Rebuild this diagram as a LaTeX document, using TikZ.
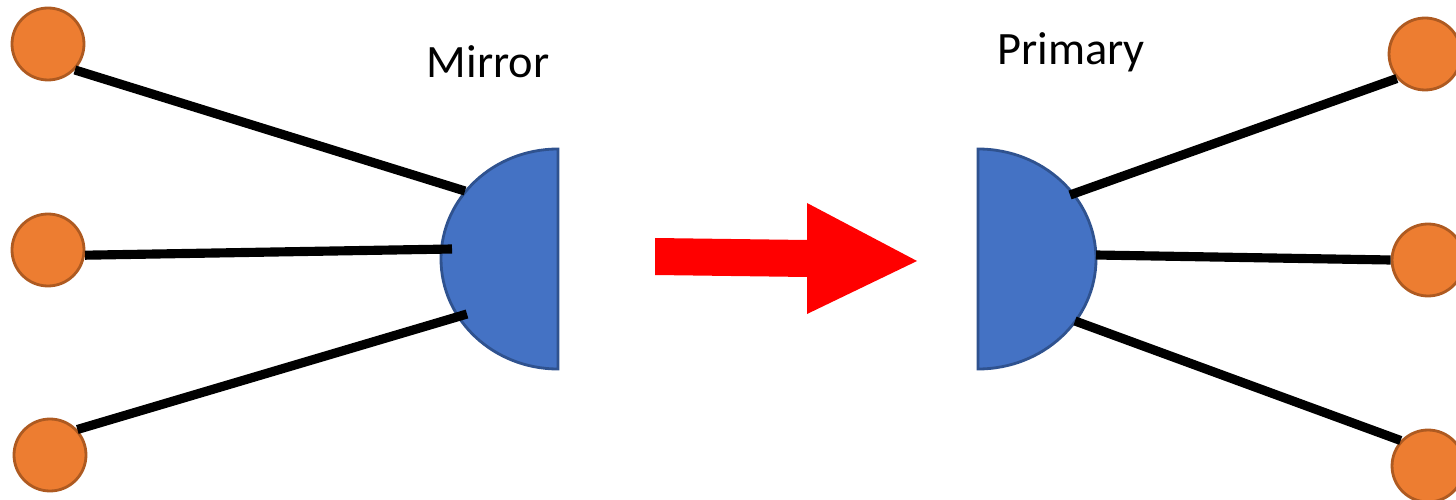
\documentclass[tikz,border=0pt]{standalone}
\usepackage{fontspec}
\setmainfont{Carlito}
\definecolor{dotfill}{HTML}{ED7D31}
\definecolor{dotline}{HTML}{AE5A21}
\definecolor{discfill}{HTML}{4472C4}
\definecolor{discline}{HTML}{2F528F}
\tikzset{
  dot/.style={circle,fill=dotfill,draw=dotline,line width=0.8pt,minimum size=0.72cm,inner sep=0pt},
  disc/.style={fill=discfill,draw=discline,line width=0.8pt},
  wire/.style={line width=2.6pt,black},
  lbl/.style={font=\fontsize{13.2}{16}\selectfont,inner sep=0pt}
}
\begin{document}
\begin{tikzpicture}
\useasboundingbox (0,0) rectangle (14.56,-5);
% half discs
\draw[disc] (5.58,-1.49) arc[start angle=90,end angle=270,x radius=1.17,y radius=1.10] -- cycle;
\draw[disc] (9.78,-1.49) arc[start angle=90,end angle=-90,x radius=1.18,y radius=1.10] -- cycle;
% end points on discs
\coordinate (m1) at (4.65,-1.91);
\coordinate (m2) at (4.52,-2.49);
\coordinate (m3) at (4.67,-3.14);
\coordinate (p1) at (10.70,-1.95);
\coordinate (p2) at (10.96,-2.55);
\coordinate (p3) at (10.75,-3.21);
% leaf circles
\node[dot] (l1) at (0.48,-0.44) {};
\node[dot] (l2) at (0.48,-2.50) {};
\node[dot] (l3) at (0.50,-4.55) {};
\node[dot] (r1) at (14.25,-0.54) {};
\node[dot] (r2) at (14.28,-2.60) {};
\node[dot] (r3) at (14.28,-4.66) {};
% wires
\draw[wire] (l1.-44) -- (m1);
\draw[wire] (l2.-8) -- (m2);
\draw[wire] (l3.43) -- (m3);
\draw[wire] (p1) -- (r1.221);
\draw[wire] (p2) -- (r2.180);
\draw[wire] (p3) -- (r3.137);
% arrow
\fill[red] (6.55,-2.38) -- (8.07,-2.40) -- (8.07,-2.03) -- (9.17,-2.61) -- (8.07,-3.14) -- (8.07,-2.77) -- (6.55,-2.75) -- cycle;
% labels
\node[lbl] (mirror) at (4.88,-0.62) {Mirror};
\node[lbl] (primary) at (10.71,-0.52) {Primary};
\end{tikzpicture}
\end{document}
